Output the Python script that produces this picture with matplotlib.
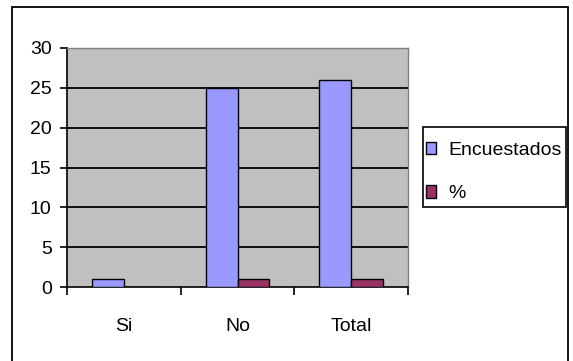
import numpy as np
import matplotlib.pyplot as plt
from matplotlib.patches import Rectangle

categories = ['Si', 'No', 'Total']
encuestados = [1, 25, 26]
porcentaje = [0.04, 0.96, 1]
yticks = [0, 5, 10, 15, 20, 25, 30]

plt.rcParams['font.family'] = ['Liberation Sans', 'DejaVu Sans']

fig = plt.figure(figsize=(5.73, 3.61), dpi=100)
fig.patch.set_facecolor('white')
ax = fig.add_axes([67/573, 1-287/361, (408-67)/573, (287-48)/361])
ax.set_facecolor('#c0c0c0')

x = np.arange(len(categories))
w = 0.28
ax.bar(x - w/2, encuestados, w, color='#9999ff', edgecolor='black', linewidth=1.0, zorder=3, label='Encuestados')
ax.bar(x + w/2, porcentaje, w, color='#993366', edgecolor='black', linewidth=1.0, zorder=3, label='%')

ax.set_xlim(-0.5, len(categories) - 0.5)
ax.set_ylim(0, 30)
ax.set_yticks(yticks)
ax.hlines(yticks[1:-1], -0.5, len(categories) - 0.5, colors='black', linewidth=1.3, zorder=1)

ax.set_xticks(x)
ax.set_xticklabels(categories)
ax.set_xticks(np.arange(len(categories) + 1) - 0.5, minor=True)
ax.tick_params(axis='x', which='major', length=0, pad=22, labelsize=14)
ax.tick_params(axis='x', which='minor', length=6, width=1.2, direction='out')
ax.tick_params(axis='y', length=5, width=1.2, direction='out', pad=6, labelsize=14)

for s in ['top', 'right']:
    ax.spines[s].set_color('#808080')
    ax.spines[s].set_linewidth(1.0)
for s in ['left', 'bottom']:
    ax.spines[s].set_color('black')
    ax.spines[s].set_linewidth(1.2)

# legend without frame, frame drawn separately
leg = ax.legend(loc='upper left', bbox_to_anchor=(426/573, 1-142/361),
                bbox_transform=fig.transFigure, frameon=False,
                fontsize=14, handlelength=0.5, handleheight=0.6, handletextpad=0.65,
                labelspacing=1.35, borderaxespad=0, borderpad=0)
fig.patches.append(Rectangle((423/573, 1-207/361), (566-423)/573, 80/361, transform=fig.transFigure,
                             fill=False, edgecolor='black', linewidth=1.2))

fig.patches.append(Rectangle((12/573, -0.1), (568-12)/573, 1.1 - 7/361, transform=fig.transFigure,
                             fill=False, edgecolor='black', linewidth=1.3))

fig.savefig('out.png', dpi=100)
